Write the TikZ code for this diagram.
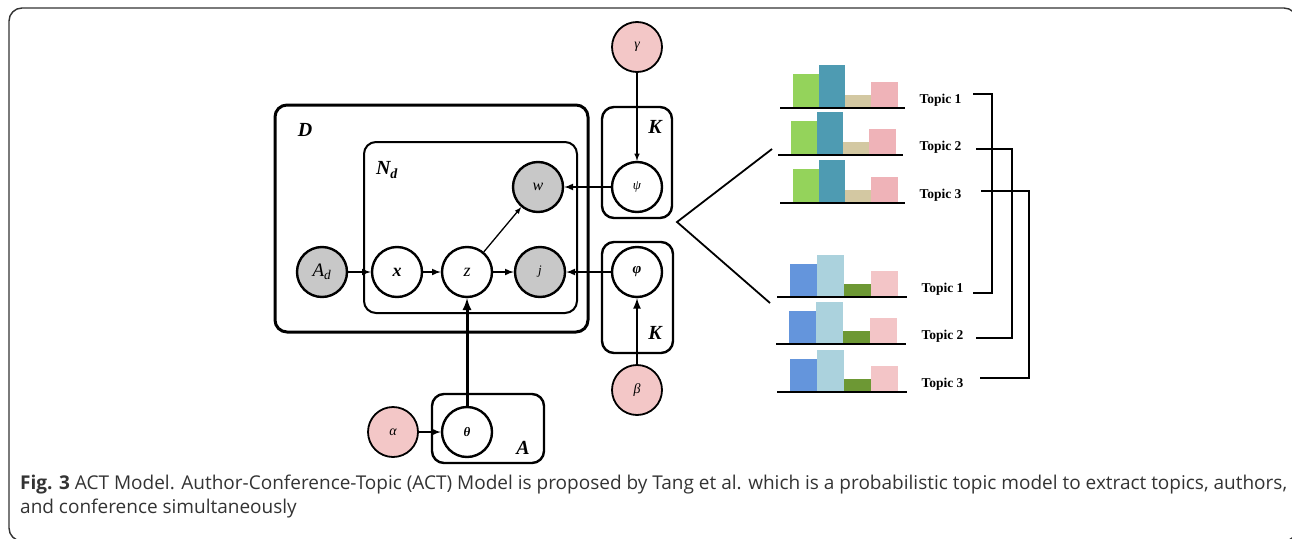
\documentclass[tikz,border=0pt]{standalone}
\usepackage{fontspec}
\setmainfont{Liberation Serif}
\newfontfamily\capfont{Open Sans}
\usetikzlibrary{positioning}

\definecolor{obsgray}{HTML}{C8C8C8}
\definecolor{hyppink}{HTML}{F3C7C7}
\definecolor{topgreen}{HTML}{94D35B}
\definecolor{topteal}{HTML}{4E9BB2}
\definecolor{toptan}{HTML}{D3C8A2}
\definecolor{toppink}{HTML}{EFB3B8}
\definecolor{lowblue}{HTML}{6495DC}
\definecolor{lowcyan}{HTML}{ABD2DD}
\definecolor{lowolive}{HTML}{6D9834}
\definecolor{lowpink}{HTML}{F3C5C7}

\begin{document}
\begin{tikzpicture}[x=1pt,y=-1pt,
    var/.style={circle,draw,line width=2.4pt,minimum size=50pt,inner sep=0pt,fill=white},
    obs/.style={var,fill=obsgray},
    hyp/.style={var,fill=hyppink,line width=1.8pt},
    plate/.style={draw,line width=2.4pt,rounded corners=12pt},
    platelabel/.style={font=\fontsize{20}{20}\selectfont\bfseries\itshape},
    edge/.style={-latex,line width=2pt},
    topic/.style={font=\fontsize{13.5}{13.5}\selectfont\bfseries,anchor=west},
    captext/.style={anchor=base west,font=\capfont\fontsize{19}{22}\selectfont,text=black!80,inner sep=0pt}]
    \useasboundingbox (0,0) rectangle (1292,538);
    \draw[line width=1.4pt,draw=black!80,rounded corners=13pt] (9,8) rectangle (1297,541);

    % plates
    \draw[plate,line width=3pt] (275,105) rectangle (588,332);
    \draw[plate,line width=2pt] (364,142) rectangle (577,313);
    \draw[plate] (602,107) rectangle (672,218);
    \draw[plate] (602,242) rectangle (673,353);
    \draw[plate] (432,394) rectangle (544,463);
    \node[platelabel] (lD) at (305,130) {D};
    \node[platelabel] (lN) at (387,170) {N\textsubscript{\itshape d}};
    \node[platelabel] (lK1) at (655,127) {K};
    \node[platelabel] (lK2) at (655,333) {K};
    \node[platelabel] (lA) at (523,448) {A};

    % variables
    \node[hyp,font=\fontsize{14}{14}\selectfont\itshape] (gamma) at (637,47) {γ};
    \node[var,font=\fontsize{13}{13}\selectfont\itshape] (psi) at (637,187) {ψ};
    \node[var,font=\fontsize{15}{15}\selectfont\itshape\bfseries] (phi) at (637,272) {φ};
    \node[hyp,font=\fontsize{14}{14}\selectfont\itshape] (beta) at (637,390) {β};
    \node[obs,font=\fontsize{16}{16}\selectfont\itshape] (w) at (538,187) {w};
    \node[obs,font=\fontsize{19}{19}\selectfont\itshape] (Ad) at (322,272) {A\textsubscript{d}};
    \node[var,font=\fontsize{18}{18}\selectfont\itshape\bfseries] (x) at (397,272) {x};
    \node[var,font=\fontsize{18}{18}\selectfont\itshape] (z) at (467,272) {z};
    \node[obs,font=\fontsize{13}{13}\selectfont\itshape] (j) at (540,272) {j};
    \node[hyp,font=\fontsize{14}{14}\selectfont\itshape] (alpha) at (393,432) {α};
    \node[var,font=\fontsize{13}{13}\selectfont\itshape\bfseries] (theta) at (467,432) {θ};

    % edges
    \draw[edge] (Ad) -- (x);
    \draw[edge] (x) -- (z);
    \draw[edge] (z) -- (j);
    \draw[edge,line width=1.3pt] (z) -- (w);
    \draw[edge] (psi) -- (w);
    \draw[edge] (phi) -- (j);
    \draw[edge,line width=3pt] (theta) -- (z);
    \draw[edge,line width=1.5pt] (gamma) -- (psi);
    \draw[edge,line width=2.5pt] (beta) -- (phi);
    \draw[edge] (alpha) -- (theta);

    % fork to the topic charts
    \coordinate (fork) at (677,222);
    \coordinate (forkup) at (772,149);
    \coordinate (forkdn) at (770,303);
    \draw[line width=1.8pt] (forkup) -- (fork) -- (forkdn);

    % topic distributions over words
    \foreach \i/\dx/\yb in {1/0/108,2/-2/155,3/0/203} {
        \fill[topgreen] (793+\dx,\yb) rectangle ++(26,-34);
        \fill[topteal] (819+\dx,\yb) rectangle ++(26,-43);
        \fill[toptan] (845+\dx,\yb) rectangle ++(26,-13);
        \fill[toppink] (871+\dx,\yb) rectangle ++(27,-26);
        \draw[line width=1.8pt] (780+\dx,\yb) -- (905+\dx,\yb);
        \node[topic] (tu\i) at (916,\yb-8) {Topic \i};
    }
    % topic distributions over conferences
    \foreach \i/\dx/\yb in {1/-3/297,2/-4/344,3/-3/392} {
        \fill[lowblue] (793+\dx,\yb) rectangle ++(27,-33);
        \fill[lowcyan] (820+\dx,\yb) rectangle ++(27,-42);
        \fill[lowolive] (847+\dx,\yb) rectangle ++(27,-13);
        \fill[lowpink] (874+\dx,\yb) rectangle ++(27,-26);
        \draw[line width=1.8pt] (780+\dx,\yb) -- (910+\dx,\yb);
        \node[topic] (tl\i) at (918,\yb-8) {Topic \i};
    }

    % brackets pairing the topics
    \coordinate (b1a) at (973,94);  \coordinate (b1b) at (973,293);
    \coordinate (b2a) at (976,149); \coordinate (b2b) at (976,338);
    \coordinate (b3a) at (981,191); \coordinate (b3b) at (980,378);
    \draw[line width=1.8pt] (b1a) -- ++(19,0) |- (b1b);
    \draw[line width=1.8pt] (b2a) -- ++(36,0) |- (b2b);
    \draw[line width=1.8pt] (b3a) -- ++(48,0) |- (b3b);

    % caption
    \node[captext] (cap1) at (20,489)
        {\textbf{Fig. 3} ACT Model. Author-Conference-Topic (ACT) Model is proposed by Tang et al. which is a probabilistic topic model to extract topics, authors,};
    \node[captext] (cap2) at (20,513) {and conference simultaneously};
\end{tikzpicture}
\end{document}
